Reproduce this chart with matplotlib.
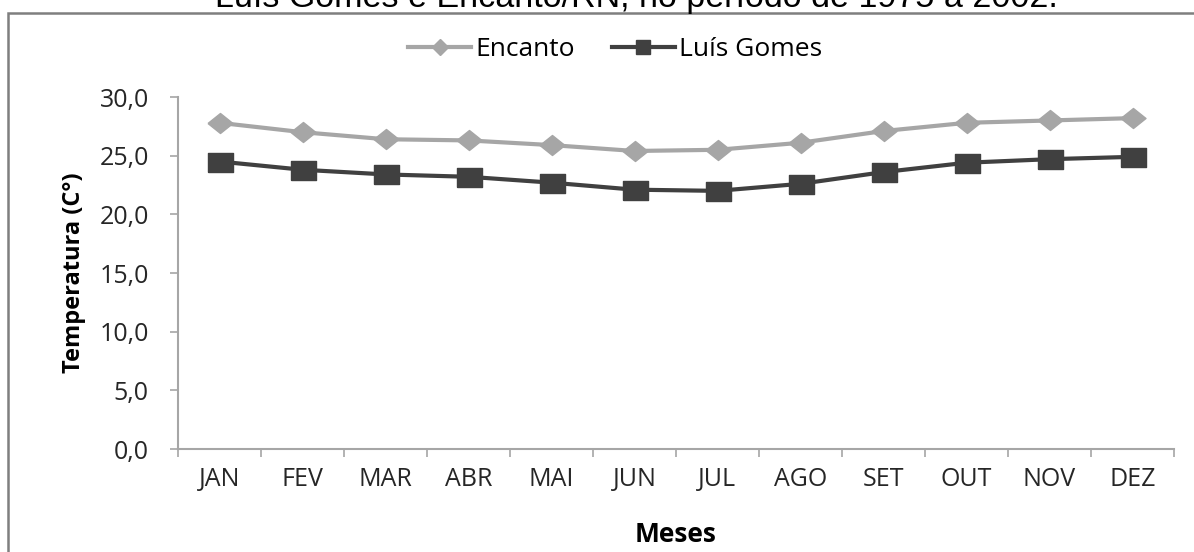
import numpy as np
import matplotlib
matplotlib.use("Agg")
import matplotlib.pyplot as plt
from matplotlib.lines import Line2D
from matplotlib.patches import Rectangle

# dados
meses = ["JAN", "FEV", "MAR", "ABR", "MAI", "JUN",
         "JUL", "AGO", "SET", "OUT", "NOV", "DEZ"]
encanto = [27.8, 27.0, 26.4, 26.3, 25.9, 25.4, 25.5, 26.1, 27.1, 27.8, 28.0, 28.2]
luis_gomes = [24.5, 23.8, 23.4, 23.2, 22.7, 22.1, 22.0, 22.6, 23.6, 24.4, 24.7, 24.9]
y_ticks = [0, 5, 10, 15, 20, 25, 30]
y_tick_labels = ["0,0", "5,0", "10,0", "15,0", "20,0", "25,0", "30,0"]

titulo = "Luís Gomes e Encanto/RN, no período de 1975 a 2002."

cor_encanto = "#a6a6a6"
cor_luis = "#404040"
cor_eixo = "#a6a6a6"
fonte = "Open Sans"

# marcadores: losango e quadrado um pouco achatados
losango = [(-1, 0), (0, 0.8), (1, 0), (0, -0.8), (-1, 0)]
quadrado = [(-1, -0.76), (1, -0.76), (1, 0.76), (-1, 0.76), (-1, -0.76)]

fig = plt.figure(figsize=(11.94, 5.52), dpi=100)
W, H = 1194, 552
ax = fig.add_axes([178 / W, 1 - 449 / H, (1174 - 178) / W, (449 - 97) / H])

x = np.arange(len(meses))
ax.plot(x, encanto, color=cor_encanto, lw=3, marker=losango, ms=18,
        mec=cor_encanto, mfc=cor_encanto, zorder=3)
ax.plot(x, luis_gomes, color=cor_luis, lw=3, marker=quadrado, ms=18,
        mec=cor_luis, mfc=cor_luis, zorder=3)

ax.set_xlim(-0.5, len(meses) - 0.5)
ax.set_ylim(0, 30)

for s in ["top", "right"]:
    ax.spines[s].set_visible(False)
for s in ["left", "bottom"]:
    ax.spines[s].set_color(cor_eixo)
    ax.spines[s].set_linewidth(1.5)

ax.set_yticks(y_ticks)
ax.set_yticklabels(y_tick_labels, fontfamily=fonte, fontsize=18, color="#262626")
ax.tick_params(axis="y", length=6, width=1.2, color=cor_eixo, pad=15)

ax.set_xticks(x)
ax.set_xticklabels(meses, fontfamily=fonte, fontsize=18, color="#262626")
ax.set_xticks(np.arange(len(meses) + 1) - 0.5, minor=True)
ax.tick_params(axis="x", which="major", length=0, pad=13)
ax.tick_params(axis="x", which="minor", length=6, width=1.2, color=cor_eixo)

ax.set_xlabel("Meses", fontfamily=fonte, fontsize=19, fontweight="bold")
ax.xaxis.set_label_coords(0.5, -0.205)
ax.xaxis.label.set_va("top")
ax.set_ylabel("Temperatura (C°)", fontfamily=fonte, fontsize=17, fontweight="bold")
ax.yaxis.set_label_coords(-0.092, 0.5)

handles = [
    Line2D([], [], color=cor_encanto, lw=3, marker="D", ms=8, mec=cor_encanto),
    Line2D([], [], color=cor_luis, lw=3, marker="s", ms=10, mec=cor_luis),
]
fig.legend(handles, ["Encanto", "Luís Gomes"], loc="center",
           bbox_to_anchor=(615 / W, 1 - 50 / H), ncol=2, frameon=False,
           prop={"family": fonte, "size": 19}, handlelength=2.4,
           handletextpad=0.15, columnspacing=1.4)

# moldura cinza em volta do grafico (cortada a direita e embaixo)
fig.add_artist(Rectangle((8 / W, -0.1), 1.2, 1.1 - 13 / H, transform=fig.transFigure,
                         fill=False, ec="#7f7f7f", lw=1.8, clip_on=False))

# titulo cortado no topo da imagem, como na figura original
fig.text(636 / W, 1 - 7 / H, titulo, ha="center", va="baseline",
         fontfamily="Liberation Sans", fontsize=24.5, color="black")

fig.savefig("out.png", dpi=100)
